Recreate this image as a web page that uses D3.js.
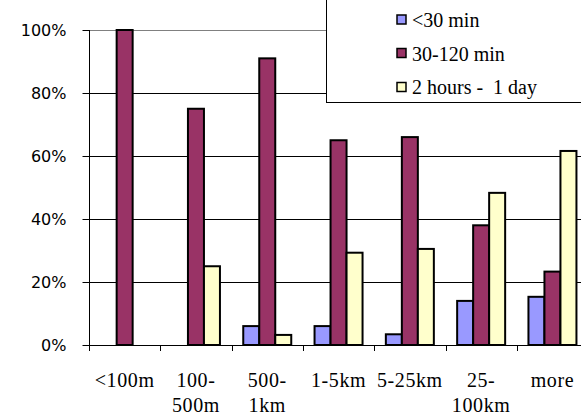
<!DOCTYPE html>
<html><head><meta charset="utf-8">
<script src="https://cdn.jsdelivr.net/npm/d3@7"></script>
<style>body{margin:0;background:#fff;}svg{display:block;}
.serif{font-family:"Liberation Serif","Times New Roman",serif;}
.sans{font-family:"DejaVu Sans",Verdana,sans-serif;}
</style>
</head><body>
<svg id="c" width="581" height="417"></svg>
<script>
const categories = ["<100m", "100-\n500m", "500-\n1km", "1-5km", "5-25km", "25-\n100km", "more"];
const seriesNames = ["<30 min", "30-120 min", "2 hours -  1 day"];
const under30 = [0, 0, 6, 6, 3.4, 14, 15.3];
const min30to120 = [100, 75, 91, 65, 66, 38, 23.3];
const hours2to1day = [0, 25, 3.2, 29.3, 30.5, 48.3, 61.6];
const colors = ["#9999FF", "#993366", "#FFFFCC"];
const yTicks = [0, 20, 40, 60, 80, 100];

(function () {
const series = [under30, min30to120, hours2to1day];
const svg = d3.select("#c");
const pLeft = 89, pTop = 30, pBottom = 345, band = 71.3;
const pRight = pLeft + band * categories.length;

const x = d3.scaleBand().domain(categories).range([pLeft, pRight]).paddingInner(0).paddingOuter(0);
const y = d3.scaleLinear().domain([0, 100]).range([pBottom, pTop]);
const xs = d3.scaleBand().domain([0,1,2]).range([0, 48]);

svg.append("g").selectAll("line").data(yTicks.filter(d => d > 0)).join("line")
  .attr("x1", pLeft).attr("x2", pRight)
  .attr("y1", d => Math.round(y(d)) + 0.5).attr("y2", d => Math.round(y(d)) + 0.5)
  .attr("stroke", d => d === 100 ? "#808080" : "#000").attr("stroke-width", 1);

const g = svg.append("g");
categories.forEach((c, i) => {
  const x0 = x(c) + (band - 48) / 2;
  series.forEach((s, j) => {
    if (s[i] <= 0) return;
    g.append("rect")
      .attr("x", x0 + xs(j))
      .attr("y", y(s[i]))
      .attr("width", xs.bandwidth())
      .attr("height", pBottom - y(s[i]))
      .attr("fill", colors[j]).attr("stroke", "#000").attr("stroke-width", 2);
  });
});

const ya = d3.axisLeft(y).tickValues(yTicks).tickFormat(d => d + "%").tickSize(7).tickPadding(16);
const yg = svg.append("g").attr("transform", `translate(${pLeft + 0.5},0)`).call(ya);
yg.attr("font-family", null).attr("font-size", null);
yg.select(".domain").attr("stroke", "#000").attr("d", `M0,${pTop}V${pBottom}`);
yg.selectAll("text").attr("class", "sans").style("font-size", "16px").attr("fill", "#000");

const xa = svg.append("g");
xa.append("line").attr("x1", pLeft).attr("x2", pRight).attr("y1", pBottom + 0.5).attr("y2", pBottom + 0.5).attr("stroke", "#000");
xa.selectAll("line.t").data(d3.range(categories.length + 1)).join("line").attr("class", "t")
  .attr("x1", i => Math.round(pLeft + i * band) + 0.5).attr("x2", i => Math.round(pLeft + i * band) + 0.5)
  .attr("y1", pBottom).attr("y2", pBottom + 6).attr("stroke", "#000");
categories.forEach(c => {
  const t = xa.append("text").attr("class", "serif").attr("x", x(c) + band / 2).attr("y", 387)
    .attr("text-anchor", "middle").style("font-size", "20px").style("letter-spacing", "0.6px").attr("fill", "#000");
  c.split("\n").forEach((line, k) => {
    t.append("tspan").attr("x", x(c) + band / 2).attr("dy", k === 0 ? 0 : 25).text(line);
  });
});

const lg = svg.append("g");
lg.append("rect").attr("x", 326.5).attr("y", -5).attr("width", 300).attr("height", 107.5)
  .attr("fill", "#fff").attr("stroke", "#000").attr("stroke-width", 1);
seriesNames.forEach((n, i) => {
  const cy = [19.5, 53, 87][i];
  const by = [27, 60.5, 94][i];
  lg.append("rect").attr("x", 397).attr("y", cy - 4.5).attr("width", 9).attr("height", 9)
    .attr("fill", colors[i]).attr("stroke", "#000").attr("stroke-width", 1.5);
  lg.append("text").attr("class", "serif").attr("x", 412).attr("y", by).text(n)
    .style("font-size", "20px").attr("fill", "#000").style("white-space", "pre");
});
})();
</script>
</body></html>
